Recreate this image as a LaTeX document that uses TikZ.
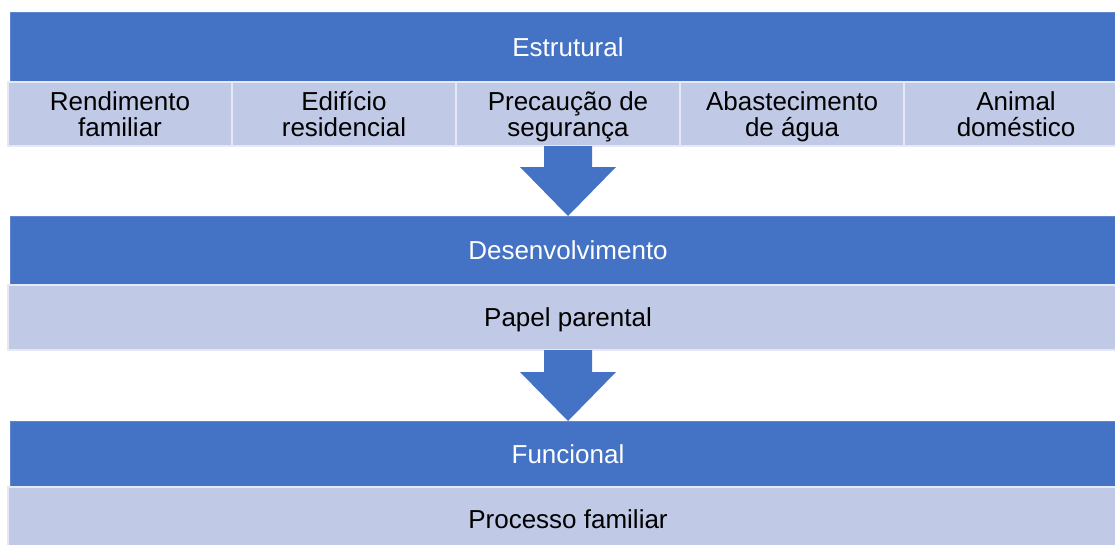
\documentclass[tikz,border=0pt]{standalone}
\usepackage{fontspec}
\setmainfont{Liberation Sans}
\usetikzlibrary{positioning,calc}
\definecolor{barblue}{HTML}{4472C4}
\definecolor{rowlight}{HTML}{C0C9E5}

\begin{document}
\begin{tikzpicture}[x=1pt, y=1pt, node distance=0pt,
    font=\fontsize{26}{26}\selectfont,
    bar/.style={rectangle, fill=barblue, draw=barblue!85!white, line width=0.8pt, text=white, minimum width=1116pt, text height=24pt, text depth=6pt, inner sep=0pt, outer sep=0pt},
    row/.style={rectangle, fill=rowlight, draw=white!60!rowlight, line width=1.5pt, text=black, minimum height=64pt, text height=24pt, text depth=6pt, inner sep=0pt, outer sep=0pt, align=center},
    cell/.style={row, minimum width=224pt, text height=50pt},
    blockarrow/.style={fill=barblue}]
    \clip (0,0) rectangle (1115,-544);

    \node [bar, minimum height=70pt] (estr) at (568,-47) {Estrutural};
    \node [cell, below=0pt of estr] (prec) {Precaução de\\segurança};
    \node [cell, left=0pt of prec] (edif) {Edifício\\residencial};
    \node [cell, left=0pt of edif] (rend) {Rendimento\\familiar};
    \node [cell, right=0pt of prec] (abast) {Abastecimento\\de água};
    \node [cell, right=0pt of abast] (anim) {Animal\\doméstico};

    \node [bar, minimum height=69pt, below=70pt of prec] (desenv) {Desenvolvimento};
    \node [row, minimum width=1120pt, minimum height=65pt, below=0pt of desenv] (papel) {Papel parental};

    \node [bar, minimum height=66pt, below=71pt of papel] (func) {Funcional};
    \node [row, minimum width=1120pt, minimum height=65pt, below=0pt of func] (proc) {Processo familiar};

    % block arrows between the levels
    \foreach \a/\b in {prec/desenv, papel/func}
        \fill [blockarrow] ($(\a.south)+(-24,0)$) -- ($(\b.north)+(-24,49)$)
            -- ($(\b.north)+(-48,49)$) -- (\b.north) -- ($(\b.north)+(48,49)$)
            -- ($(\b.north)+(24,49)$) -- ($(\a.south)+(24,0)$) -- cycle;
\end{tikzpicture}
\end{document}
